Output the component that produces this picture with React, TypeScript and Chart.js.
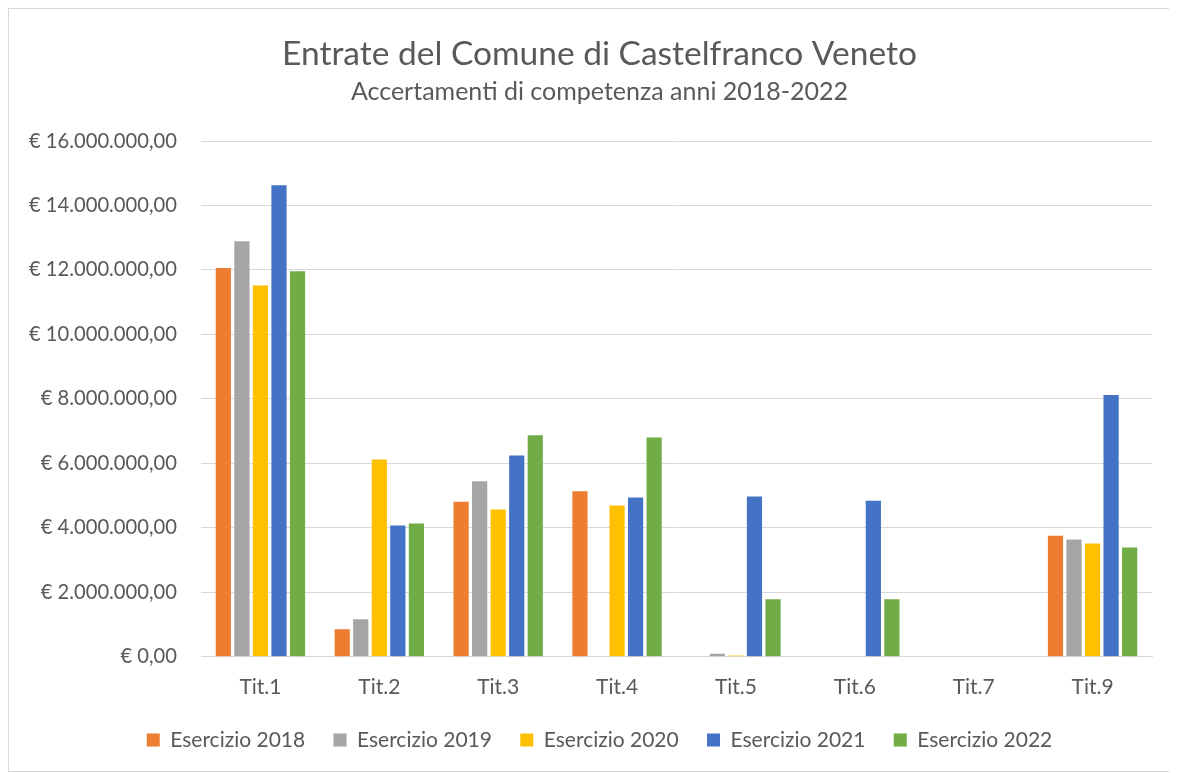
import { useEffect, useRef } from "react";
import { Chart, registerables } from "chart.js";

Chart.register(...registerables);

const categories = ["Tit.1", "Tit.2", "Tit.3", "Tit.4", "Tit.5", "Tit.6", "Tit.7", "Tit.9"];
const seriesLabels = ["Esercizio 2018", "Esercizio 2019", "Esercizio 2020", "Esercizio 2021", "Esercizio 2022"];
const es2018 = [12060000, 850000, 4810000, 5130000, 0, 0, 0, 3750000];
const es2019 = [12890000, 1160000, 5440000, 0, 90000, 0, 0, 3640000];
const es2020 = [11520000, 6120000, 4570000, 4690000, 40000, 0, 0, 3510000];
const es2021 = [14630000, 4070000, 6240000, 4940000, 4970000, 4840000, 0, 8120000];
const es2022 = [11960000, 4130000, 6870000, 6800000, 1780000, 1780000, 0, 3390000];
const seriesColors = ["#ED7D31", "#A5A5A5", "#FFC000", "#4472C4", "#70AD47"];
const yMin = 0;
const yMax = 16000000;
const yStep = 2000000;
const titleText = "Entrate del Comune di Castelfranco Veneto";
const subtitleText = "Accertamenti di competenza anni 2018-2022";

function euro(v: number): string {
  const s = Math.round(v).toString().replace(/\B(?=(\d{3})+(?!\d))/g, ".");
  return "€ " + s + ",00";
}

const W = 1161;
const H = 762;
const TEXT = "#595959";
const GRID = "#d9d9d9";

export default function App() {
  const ref = useRef<HTMLCanvasElement | null>(null);

  useEffect(() => {
    if (!ref.current) return;
    const values = [es2018, es2019, es2020, es2021, es2022];
    const chart = new Chart(ref.current, {
      type: "bar",
      data: {
        labels: categories,
        datasets: seriesLabels.map((label, i) => ({
          label,
          data: values[i],
          backgroundColor: seriesColors[i],
          borderWidth: 0,
          categoryPercentage: 0.78,
          barPercentage: 0.82,
        })),
      },
      options: {
        responsive: false,
        animation: false,
        layout: { padding: { left: 38, right: 18, top: 0, bottom: 10.5 } },
        font: { family: "Lato" },
        plugins: {
          title: {
            display: true,
            text: titleText,
            color: TEXT,
            font: { family: "Lato", size: 33.5, weight: "normal", lineHeight: 1.2 },
            padding: { top: 24.9, bottom: 0 },
          },
          subtitle: {
            display: true,
            text: subtitleText,
            color: TEXT,
            font: { family: "Lato", size: 25, weight: "normal", lineHeight: 1.2 },
            padding: { top: 2.9, bottom: 34 },
          },
          legend: {
            position: "bottom",
            labels: {
              color: TEXT,
              font: { family: "Lato", size: 21 },
              boxWidth: 13,
              boxHeight: 13,
              padding: 28.3,
            },
          },
          tooltip: { enabled: false },
        },
        scales: {
          x: {
            grid: { display: false, drawTicks: false },
            border: { display: true, color: GRID },
            ticks: { color: TEXT, font: { family: "Lato", size: 21 }, padding: 18 },
            afterFit: (scale: any) => {
              scale.height = 44.5;
            },
          },
          y: {
            min: yMin,
            max: yMax,
            grid: { color: GRID, lineWidth: 1, drawTicks: false },
            border: { display: false },
            ticks: {
              stepSize: yStep,
              color: TEXT,
              font: { family: "Lato", size: 20.2 },
              padding: 24,
              callback: (v: any) => euro(Number(v)),
            },
            afterFit: (scale: any) => {
              scale.width = 154;
              scale._computeLabelArea = () => undefined;
            },
          },
        },
      },
    } as any);
    return () => chart.destroy();
  }, []);

  return (
    <div style={{ width: W, height: H, border: "1px solid #d9d9d9", background: "#fff" }}>
      <canvas ref={ref} width={W} height={H} style={{ display: "block" }} />
    </div>
  );
}
